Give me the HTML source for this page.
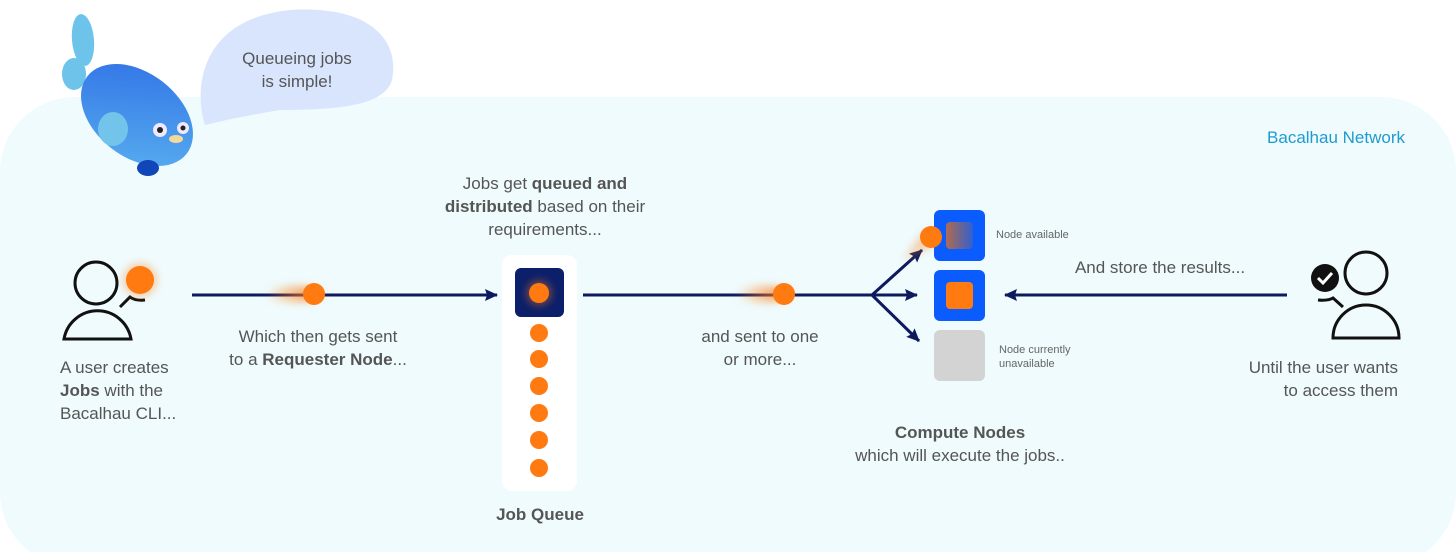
<!DOCTYPE html>
<html><head><meta charset="utf-8"><style>
html,body{margin:0;padding:0;background:#fff;}
svg{display:block;font-family:"Liberation Sans",sans-serif;}
.t{font-size:17px;fill:#555;}
.b{font-weight:bold;}
</style></head><body>
<svg width="1456" height="552" viewBox="0 0 1456 552" xmlns="http://www.w3.org/2000/svg">
<defs>
<filter id="gl" x="-100%" y="-100%" width="300%" height="300%"><feGaussianBlur stdDeviation="4"/></filter>
<linearGradient id="tr" x1="0" x2="1"><stop offset="0" stop-color="#ff7a10" stop-opacity="0"/><stop offset="1" stop-color="#ff7a10" stop-opacity="0.9"/></linearGradient>
<linearGradient id="fish" x1="0" y1="0" x2="1" y2="1"><stop offset="0" stop-color="#2f6fe6"/><stop offset="1" stop-color="#5ab2f0"/></linearGradient>
<linearGradient id="fade" x1="0" x2="1"><stop offset="0" stop-color="#b06a50"/><stop offset="1" stop-color="#3060d0"/></linearGradient>
<marker id="ar" markerWidth="14" markerHeight="14" refX="12" refY="7" orient="auto" markerUnits="userSpaceOnUse"><path d="M0,1 L13,7 L0,13 L2,7 Z" fill="#0e1a5e"/></marker>
</defs>
<rect x="0" y="97" width="1456" height="470" rx="75" fill="#effbfd"/>
<text x="1405" y="143" font-size="17" fill="#1f9bd1" text-anchor="end">Bacalhau Network</text>

<!-- speech bubble -->
<path d="M205,125 C195,95 195,20 290,10 C370,5 400,40 392,80 C385,105 340,110 280,110 C250,115 225,120 205,125 Z" fill="#d8e5fd"/>
<text class="t" x="297" y="64" text-anchor="middle">Queueing jobs</text>
<text class="t" x="297" y="87" text-anchor="middle">is simple!</text>
<!-- fish -->
<ellipse cx="83" cy="40" rx="11" ry="26" fill="#6dc3ea" transform="rotate(-5 83 40)"/>
<ellipse cx="74" cy="74" rx="12" ry="16" fill="#6dc3ea"/>
<ellipse cx="140" cy="88" rx="18" ry="14" fill="#6dc3ea"/>
<ellipse cx="137" cy="115" rx="63" ry="42" fill="url(#fish)" transform="rotate(38 137 115)"/>
<ellipse cx="113" cy="129" rx="15" ry="17" fill="#72c4ea"/>
<ellipse cx="148" cy="168" rx="11" ry="8" fill="#1046b8"/>
<circle cx="160" cy="130" r="7" fill="#f0e8ff"/><circle cx="160" cy="130" r="3" fill="#222"/>
<circle cx="183" cy="128" r="6" fill="#f0e8ff"/><circle cx="183" cy="128" r="2.5" fill="#222"/>
<ellipse cx="176" cy="139" rx="7" ry="4" fill="#f4d99a"/>

<!-- user left -->
<g fill="none" stroke="#111" stroke-width="3">
<circle cx="96" cy="283" r="21"/>
<path d="M64,339 A34,34 0 0 1 131,339 Z"/>
<path d="M120,307 L130,297 Q135,301 145,300"/>
</g>
<circle cx="140" cy="280" r="17" fill="#ff7a10" opacity="0.35" filter="url(#gl)"/>
<circle cx="140" cy="280" r="14" fill="#ff7a10"/>
<text class="t" x="60" y="373">A user creates</text>
<text class="t" x="60" y="396"><tspan class="b">Jobs</tspan> with the</text>
<text class="t" x="60" y="419">Bacalhau CLI...</text>

<!-- arrow 1 -->
<line x1="192" y1="295" x2="497" y2="295" stroke="#0e1a5e" stroke-width="3" marker-end="url(#ar)"/>
<ellipse cx="293" cy="294" rx="28" ry="8" fill="url(#tr)" filter="url(#gl)"/>
<circle cx="314" cy="294" r="11" fill="#ff7a10"/>
<text class="t" x="318" y="342" text-anchor="middle">Which then gets sent</text>
<text class="t" x="318" y="365" text-anchor="middle">to a <tspan class="b">Requester Node</tspan>...</text>

<!-- queue -->
<text class="t" x="545" y="189" text-anchor="middle">Jobs get <tspan class="b">queued and</tspan></text>
<text class="t" x="545" y="212" text-anchor="middle"><tspan class="b">distributed</tspan> based on their</text>
<text class="t" x="545" y="235" text-anchor="middle">requirements...</text>
<rect x="502" y="255" width="75" height="236" rx="10" fill="#fff"/>
<rect x="515" y="268" width="49" height="49" rx="6" fill="#0b1f6b"/>
<circle cx="539" cy="293" r="13" fill="#ff7a10" opacity="0.4" filter="url(#gl)"/>
<circle cx="539" cy="293" r="10" fill="#ff7a10"/>
<g fill="#ff7a10">
<circle cx="539" cy="333" r="9"/><circle cx="539" cy="359" r="9"/><circle cx="539" cy="386" r="9"/>
<circle cx="539" cy="413" r="9"/><circle cx="539" cy="440" r="9"/><circle cx="539" cy="468" r="9"/>
</g>
<text class="t b" x="540" y="520" text-anchor="middle">Job Queue</text>

<!-- arrow 2 -->
<line x1="583" y1="295" x2="872" y2="295" stroke="#0e1a5e" stroke-width="3"/>
<line x1="872" y1="295" x2="917" y2="295" stroke="#0e1a5e" stroke-width="3" marker-end="url(#ar)"/>
<line x1="872" y1="295" x2="922" y2="250" stroke="#0e1a5e" stroke-width="3" marker-end="url(#ar)"/>
<line x1="872" y1="295" x2="919" y2="341" stroke="#0e1a5e" stroke-width="3" marker-end="url(#ar)"/>
<ellipse cx="763" cy="294" rx="28" ry="8" fill="url(#tr)" filter="url(#gl)"/>
<circle cx="784" cy="294" r="11" fill="#ff7a10"/>
<text class="t" x="760" y="342" text-anchor="middle">and sent to one</text>
<text class="t" x="760" y="365" text-anchor="middle">or more...</text>

<!-- nodes -->
<rect x="934" y="210" width="51" height="51" rx="6" fill="#0a5cff"/>
<rect x="946" y="222" width="27" height="27" rx="4" fill="url(#fade)"/>
<path d="M903,260 L925,230 L935,245 Z" fill="#ff7a10" opacity="0.35" filter="url(#gl)"/>
<circle cx="931" cy="237" r="11" fill="#ff7a10"/>
<rect x="934" y="270" width="51" height="51" rx="6" fill="#0a5cff"/>
<rect x="946" y="282" width="27" height="27" rx="4" fill="#ff7a10"/>
<rect x="934" y="330" width="51" height="51" rx="6" fill="#d3d3d3"/>
<text x="996" y="238" font-size="11" fill="#666">Node available</text>
<text x="999" y="353" font-size="11" fill="#666">Node currently</text>
<text x="999" y="367" font-size="11" fill="#666">unavailable</text>
<text class="t b" x="960" y="438" text-anchor="middle">Compute Nodes</text>
<text class="t" x="960" y="461" text-anchor="middle">which will execute the jobs..</text>

<!-- return arrow -->
<line x1="1287" y1="295" x2="1005" y2="295" stroke="#0e1a5e" stroke-width="3" marker-end="url(#ar)"/>
<text class="t" x="1160" y="273" text-anchor="middle">And store the results...</text>

<!-- user right -->
<g fill="none" stroke="#111" stroke-width="3">
<circle cx="1366" cy="273" r="21"/>
<path d="M1333,338 A33,33 0 0 1 1399,338 Z"/>
<path d="M1343,307 L1333,298 Q1328,301 1318,300"/>
</g>
<circle cx="1325" cy="278" r="14" fill="#111"/>
<path d="M1318,278 L1323,283 L1332,273" fill="none" stroke="#fff" stroke-width="3"/>
<text class="t" x="1398" y="373" text-anchor="end">Until the user wants</text>
<text class="t" x="1398" y="396" text-anchor="end">to access them</text>
</svg>
</body></html>
